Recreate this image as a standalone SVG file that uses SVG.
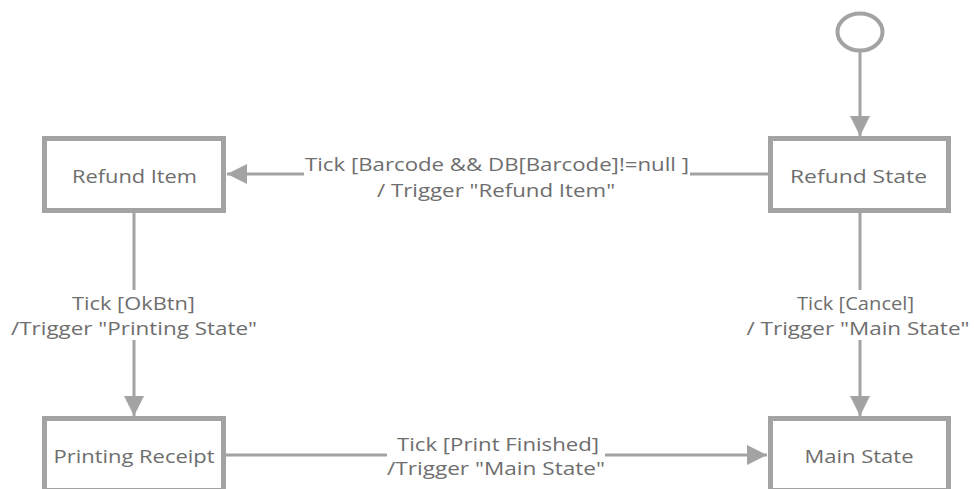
<svg xmlns="http://www.w3.org/2000/svg" width="974" height="489" viewBox="0 0 974 489">
<style>
.node{fill:#fff;stroke:#a3a3a3;stroke-width:5}
.edge{fill:none;stroke:#a3a3a3;stroke-width:3}
text{font-family:"Open Sans","Liberation Sans",sans-serif;font-size:18.5px;fill:#6e6e6e;text-anchor:middle;dominant-baseline:central}
</style>
<defs>
<marker id="arr" viewBox="0 0 20 20" refX="20" refY="10" markerWidth="20" markerHeight="20" markerUnits="userSpaceOnUse" orient="auto">
<path d="M0,0 L20,10 L0,20 Z" fill="#a3a3a3"/>
</marker>
</defs>
<rect width="974" height="489" fill="#fff"/>
<g id="connectors">
<line class="edge" x1="860" y1="52" x2="860" y2="136" marker-end="url(#arr)"/>
<line class="edge" x1="768" y1="174" x2="690" y2="174"/>
<line class="edge" x1="304" y1="174" x2="227" y2="174" marker-end="url(#arr)"/>
<text x="497" y="163" textLength="384" lengthAdjust="spacingAndGlyphs">Tick [Barcode &amp;&amp; DB[Barcode]!=null ]</text>
<text x="496" y="189" textLength="238" lengthAdjust="spacingAndGlyphs">/ Trigger "Refund Item"</text>
<line class="edge" x1="134" y1="213" x2="134" y2="290"/>
<line class="edge" x1="134" y1="340" x2="134" y2="416" marker-end="url(#arr)"/>
<text x="133.5" y="302" textLength="123" lengthAdjust="spacingAndGlyphs">Tick [OkBtn]</text>
<text x="134" y="327" textLength="246" lengthAdjust="spacingAndGlyphs">/Trigger "Printing State"</text>
<line class="edge" x1="860" y1="213" x2="860" y2="290"/>
<line class="edge" x1="860" y1="340" x2="860" y2="416" marker-end="url(#arr)"/>
<text x="855.5" y="302" textLength="117" lengthAdjust="spacingAndGlyphs">Tick [Cancel]</text>
<text x="858" y="327" textLength="223" lengthAdjust="spacingAndGlyphs">/ Trigger "Main State"</text>
<line class="edge" x1="226" y1="455" x2="387" y2="455"/>
<line class="edge" x1="605" y1="455" x2="767" y2="455" marker-end="url(#arr)"/>
<text x="498" y="443" textLength="202" lengthAdjust="spacingAndGlyphs">Tick [Print Finished]</text>
<text x="496" y="467" textLength="218" lengthAdjust="spacingAndGlyphs">/Trigger "Main State"</text>
</g>
<g id="start"><ellipse cx="860" cy="32" rx="22.5" ry="18.5" fill="#fff" stroke="#a3a3a3" stroke-width="4"/></g>
<g id="refund-item"><rect class="node" x="44.5" y="138.5" width="179" height="72"/><text x="134.5" y="175" textLength="125" lengthAdjust="spacingAndGlyphs">Refund Item</text></g>
<g id="refund-state"><rect class="node" x="770.5" y="138.5" width="178" height="72"/><text x="858.5" y="175" textLength="137" lengthAdjust="spacingAndGlyphs">Refund  State</text></g>
<g id="printing-receipt"><rect class="node" x="44.5" y="418.5" width="179" height="72"/><text x="134" y="455" textLength="161" lengthAdjust="spacingAndGlyphs">Printing Receipt</text></g>
<g id="main-state"><rect class="node" x="770.5" y="418.5" width="178" height="72"/><text x="859" y="455" textLength="109" lengthAdjust="spacingAndGlyphs">Main State</text></g>
</svg>
